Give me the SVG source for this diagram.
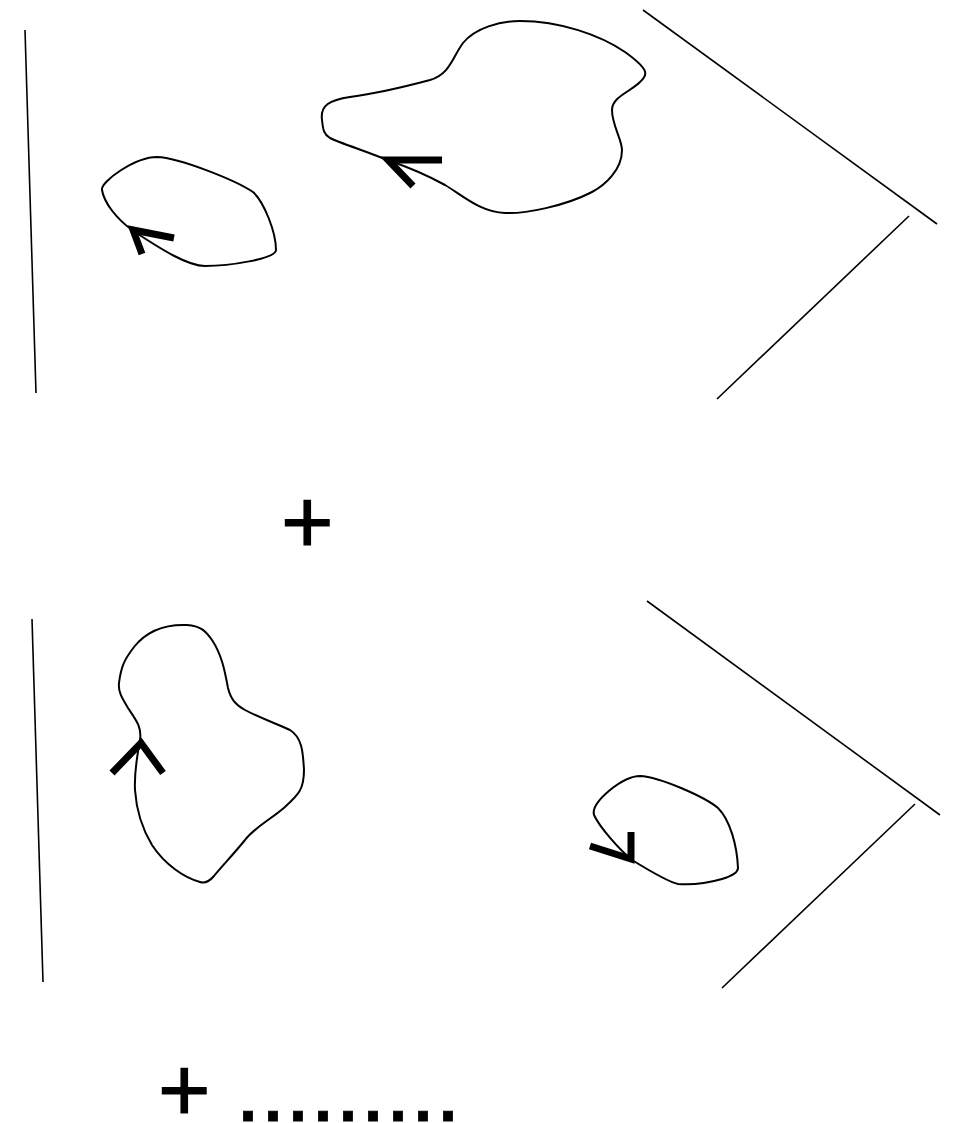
<svg xmlns="http://www.w3.org/2000/svg" width="957" height="1123" viewBox="0 0 957 1123">
<style>
.ln{fill:none;stroke:#000;stroke-width:1.6}
.blob{fill:none;stroke:#000;stroke-width:2}
.head{fill:none;stroke:#000;stroke-width:7;stroke-linecap:butt;stroke-linejoin:miter}
.txt{font-family:"Liberation Sans",Arial,sans-serif;font-size:90px;fill:#000;stroke:#000;stroke-width:1.2}
</style>
<rect width="957" height="1123" fill="#fff"/>
<g id="lines">
<line class="ln" x1="25" y1="30" x2="36" y2="393"/>
<line class="ln" x1="643" y1="10" x2="937" y2="224"/>
<line class="ln" x1="909" y1="216" x2="717" y2="399"/>
<line class="ln" x1="32" y1="619" x2="43" y2="982"/>
<line class="ln" x1="647" y1="601" x2="940" y2="815"/>
<line class="ln" x1="915" y1="804" x2="722" y2="988"/>
</g>
<g id="blob1">
<path class="blob" d="M102,190 C100,182 135,157 157,157 C180,158 235,180 253,192 C264,202 276,232 276,250 C276,259 228,266 205,266 C188,266 162,250 132,230 C117,219 104,203 102,190 Z"/>
<path class="head" d="M174,238 L133,230 L142,254"/>
</g>
<g id="blob2">
<path class="blob" d="M322,120 C320,105 330,100 350,97 C380,93 400,88 430,80 C450,74 452,58 463,43 C475,28 500,21 520,21 C560,21 600,35 625,52 C650,70 648,75 640,82 C630,92 612,97 612,110 C612,125 622,140 622,150 C622,170 605,185 592,192 C565,206 525,214 505,213 C480,212 462,195 445,185 C425,174 405,166 387,160 C368,152 340,143 330,138 C323,134 323,128 322,120 Z"/>
<path class="head" d="M442,160 L388,160 L413,186"/>
</g>
<g id="blob3">
<path class="blob" d="M187,625 C200,626 205,630 212,640 C222,655 225,672 228,688 C231,700 236,705 245,710 C260,718 275,723 290,730 C303,738 303,755 304,770 C304,790 298,795 285,807 C270,820 255,827 245,840 C232,856 222,866 214,876 C208,883 203,883 200,882 C185,878 165,865 152,845 C140,825 136,805 135,790 C134,770 138,752 140,740 C142,727 136,720 128,708 C122,698 118,692 119,683 C121,667 124,660 134,647 C145,633 162,624 187,625 Z"/>
<path class="head" d="M112,773 L141,743 L163,773"/>
</g>
<g id="blob4">
<path class="blob" d="M640,776 C660,777 705,797 718,808 C730,820 737,845 738,868 C738,873 732,876 722,879 C708,883 690,885 678,884 C668,882 645,868 632,860 C620,850 600,828 594,815 C592,808 598,800 610,790 C620,782 630,776 640,776 Z"/>
<path class="head" d="M631,832 L631,859 L590,846"/>
</g>
<g id="texts">
<text class="txt" x="281" y="553">+</text>
<text class="txt" x="158" y="1121">+ .........</text>
</g>
</svg>
